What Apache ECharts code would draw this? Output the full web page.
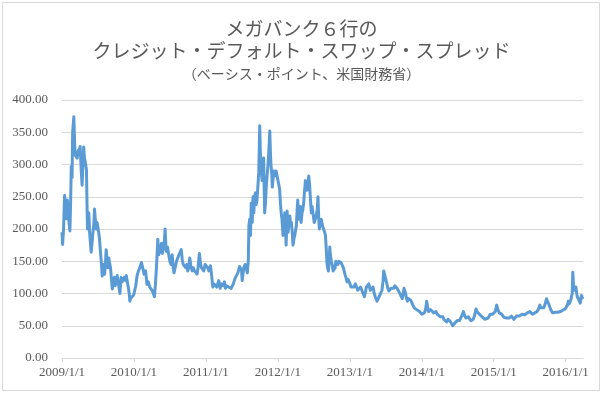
<!DOCTYPE html>
<html>
<head>
<meta charset="utf-8">
<script src="https://cdn.jsdelivr.net/npm/echarts@6/dist/echarts.min.js"></script>
<style>
html,body{margin:0;padding:0;background:#fff;}
#c{width:603px;height:395px;}
</style>
</head>
<body>
<div id="c"></div>
<script>
const titleLines = ['メガバンク６行の', 'クレジット・デフォルト・スワップ・スプレッド', '（ベーシス・ポイント、米国財務省）'];
const yearTicks = [2009, 2010, 2011, 2012, 2013, 2014, 2015, 2016];
const yTicks = [0, 50, 100, 150, 200, 250, 300, 350, 400];

const dates2009 = ['2009/01/01','2009/01/04','2009/01/09','2009/01/14','2009/01/19','2009/01/23','2009/01/28','2009/02/04','2009/02/10','2009/02/13','2009/02/17','2009/02/21','2009/02/24','2009/03/02','2009/03/05','2009/03/08','2009/03/14','2009/03/19','2009/03/24','2009/03/27','2009/04/03','2009/04/08','2009/04/13','2009/04/17','2009/04/21','2009/04/25','2009/04/28','2009/05/05','2009/05/10','2009/05/13','2009/05/17','2009/05/21','2009/05/24','2009/05/29','2009/06/03','2009/06/07','2009/06/11','2009/06/15','2009/06/19','2009/06/24','2009/06/28','2009/07/02','2009/07/06','2009/07/10','2009/07/15','2009/07/19','2009/07/24','2009/07/29','2009/08/05','2009/08/10','2009/08/13','2009/08/18','2009/08/22','2009/08/26','2009/08/30','2009/09/04','2009/09/08','2009/09/13','2009/09/18','2009/09/24','2009/09/28','2009/10/03','2009/10/08','2009/10/15','2009/10/22','2009/10/28','2009/11/02','2009/11/07','2009/11/13','2009/11/19','2009/11/23','2009/11/27','2009/12/03','2009/12/08','2009/12/11','2009/12/15','2009/12/18','2009/12/22','2009/12/31'];
const values2009 = [195,176,200,252,230,216,245,215,197,230,297,280,350,374,345,315,318,310,322,318,328,293,268,300,327,310,306,292,200,220,225,195,183,164,180,195,205,231,215,200,210,208,195,185,165,150,127,145,130,150,168,150,140,155,152,140,140,107,118,125,112,115,128,125,100,125,118,115,125,120,128,125,110,100,88,92,90,95,98];

const dates2010 = ['2010/01/04','2010/01/10','2010/01/17','2010/01/24','2010/01/31','2010/02/08','2010/02/12','2010/02/16','2010/02/21','2010/03/01','2010/03/08','2010/03/15','2010/03/22','2010/03/28','2010/04/03','2010/04/10','2010/04/15','2010/04/20','2010/04/25','2010/05/02','2010/05/07','2010/05/12','2010/05/17','2010/05/21','2010/05/25','2010/05/29','2010/06/03','2010/06/08','2010/06/12','2010/06/15','2010/06/20','2010/06/25','2010/07/02','2010/07/08','2010/07/14','2010/07/19','2010/07/23','2010/07/29','2010/08/05','2010/08/11','2010/08/17','2010/08/23','2010/08/29','2010/09/03','2010/09/08','2010/09/14','2010/09/20','2010/09/26','2010/10/01','2010/10/06','2010/10/11','2010/10/17','2010/10/23','2010/10/29','2010/11/04','2010/11/10','2010/11/17','2010/11/22','2010/11/29','2010/12/04','2010/12/09','2010/12/15','2010/12/21','2010/12/28'];
const values2010 = [100,112,128,135,140,148,150,138,130,135,114,118,110,108,105,104,95,115,140,184,160,160,172,178,162,160,175,200,175,165,172,175,150,145,160,140,132,140,150,155,160,163,168,152,145,142,140,145,135,140,155,142,135,140,135,138,130,140,162,148,140,140,135,145];

const dates2011 = ['2011/01/04','2011/01/10','2011/01/16','2011/01/24','2011/01/30','2011/02/05','2011/02/10','2011/02/15','2011/02/19','2011/02/25','2011/03/01','2011/03/07','2011/03/14','2011/03/20','2011/03/24','2011/03/31','2011/04/05','2011/04/10','2011/04/16','2011/04/22','2011/04/27','2011/05/03','2011/05/09','2011/05/14','2011/05/20','2011/05/25','2011/05/31','2011/06/06','2011/06/12','2011/06/17','2011/06/21','2011/06/25','2011/07/01','2011/07/04','2011/07/08','2011/07/12','2011/07/19','2011/07/26','2011/07/30','2011/08/04','2011/08/07','2011/08/11','2011/08/15','2011/08/19','2011/08/24','2011/08/28','2011/09/01','2011/09/05','2011/09/09','2011/09/13','2011/09/17','2011/09/22','2011/09/26','2011/10/01','2011/10/04','2011/10/08','2011/10/11','2011/10/13','2011/10/17','2011/10/21','2011/10/24','2011/10/26','2011/10/30','2011/11/04','2011/11/08','2011/11/12','2011/11/16','2011/11/21','2011/11/24','2011/11/27','2011/12/01','2011/12/04','2011/12/08','2011/12/11','2011/12/15','2011/12/19','2011/12/23','2011/12/28'];
const values2011 = [145,140,135,143,128,110,115,112,118,110,112,120,108,115,112,112,118,108,112,115,110,112,108,110,115,120,125,128,132,135,142,145,135,120,130,140,145,145,132,150,205,215,190,240,210,250,225,250,256,238,245,268,287,360,320,300,282,275,295,310,255,225,240,270,285,300,320,352,320,300,285,265,280,290,282,280,290,290];

const dates2012 = ['2012/01/05','2012/01/10','2012/01/14','2012/01/18','2012/01/22','2012/01/27','2012/02/01','2012/02/05','2012/02/09','2012/02/12','2012/02/17','2012/02/22','2012/02/27','2012/03/02','2012/03/06','2012/03/10','2012/03/14','2012/03/18','2012/03/23','2012/03/27','2012/04/01','2012/04/04','2012/04/08','2012/04/11','2012/04/16','2012/04/20','2012/04/24','2012/04/28','2012/05/03','2012/05/07','2012/05/11','2012/05/16','2012/05/20','2012/05/24','2012/05/28','2012/06/02','2012/06/06','2012/06/10','2012/06/14','2012/06/19','2012/06/23','2012/06/28','2012/07/04','2012/07/09','2012/07/14','2012/07/19','2012/07/23','2012/07/27','2012/07/30','2012/08/04','2012/08/09','2012/08/15','2012/08/21','2012/08/26','2012/08/30','2012/09/03','2012/09/07','2012/09/10','2012/09/14','2012/09/18','2012/09/21','2012/09/24','2012/09/29','2012/10/03','2012/10/08','2012/10/15','2012/10/18','2012/10/22','2012/10/27','2012/11/01','2012/11/06','2012/11/11','2012/11/17','2012/11/23','2012/11/29','2012/12/03','2012/12/07','2012/12/12','2012/12/18','2012/12/23','2012/12/28'];
const values2012 = [270,262,240,225,215,190,210,225,205,175,228,195,210,220,205,210,195,175,185,190,200,205,230,245,215,228,235,210,225,230,240,260,275,265,260,270,282,270,250,225,235,232,210,215,220,230,250,215,200,210,215,205,205,195,190,170,147,140,135,150,172,160,150,145,135,132,140,150,148,145,150,150,148,145,140,135,130,125,118,122,125];

const dates2013 = ['2013/01/02','2013/01/07','2013/01/14','2013/01/21','2013/01/29','2013/02/04','2013/02/10','2013/02/17','2013/02/24','2013/03/02','2013/03/09','2013/03/16','2013/03/21','2013/03/26','2013/04/01','2013/04/07','2013/04/15','2013/04/22','2013/04/29','2013/05/05','2013/05/10','2013/05/15','2013/05/19','2013/05/25','2013/05/31','2013/06/06','2013/06/13','2013/06/18','2013/06/22','2013/06/26','2013/06/30','2013/07/04','2013/07/08','2013/07/13','2013/07/18','2013/07/22','2013/07/29','2013/08/05','2013/08/11','2013/08/17','2013/08/23','2013/08/29','2013/09/04','2013/09/12','2013/09/18','2013/09/24','2013/09/28','2013/10/03','2013/10/07','2013/10/11','2013/10/16','2013/10/20','2013/10/25','2013/10/30','2013/11/05','2013/11/11','2013/11/17','2013/11/23','2013/11/29','2013/12/06','2013/12/13','2013/12/20','2013/12/27'];
const values2013 = [115,110,112,110,115,110,105,108,110,106,100,95,102,110,112,115,105,108,110,100,95,92,88,92,95,100,105,118,135,130,125,120,115,108,104,106,108,110,108,112,110,108,105,100,96,92,98,108,104,100,92,88,92,90,90,88,82,78,77,75,74,72,70];

const dates2014 = ['2014/01/01','2014/01/07','2014/01/14','2014/01/20','2014/01/26','2014/01/30','2014/02/04','2014/02/10','2014/02/15','2014/02/22','2014/03/01','2014/03/07','2014/03/14','2014/03/20','2014/03/26','2014/04/04','2014/04/12','2014/04/18','2014/04/23','2014/04/30','2014/05/07','2014/05/14','2014/05/21','2014/05/27','2014/06/02','2014/06/07','2014/06/10','2014/06/17','2014/06/24','2014/06/30','2014/07/05','2014/07/11','2014/07/17','2014/07/24','2014/07/31','2014/08/06','2014/08/13','2014/08/19','2014/08/25','2014/09/01','2014/09/06','2014/09/13','2014/09/19','2014/09/26','2014/10/03','2014/10/08','2014/10/14','2014/10/20','2014/10/26','2014/11/02','2014/11/09','2014/11/17','2014/11/26','2014/12/03','2014/12/09','2014/12/15','2014/12/21','2014/12/27'];
const values2014 = [68,70,70,75,88,80,72,75,75,72,70,70,72,68,65,64,62,64,60,58,56,60,58,56,54,50,51,54,55,58,60,58,62,66,72,66,62,62,64,62,58,60,60,66,76,72,70,68,65,64,62,60,58,62,65,68,70,68];

const dates2015 = ['2015/01/02','2015/01/09','2015/01/16','2015/01/22','2015/01/29','2015/02/04','2015/02/10','2015/02/16','2015/02/22','2015/03/01','2015/03/07','2015/03/13','2015/03/20','2015/03/26','2015/04/01','2015/04/07','2015/04/13','2015/04/20','2015/04/26','2015/05/03','2015/05/10','2015/05/18','2015/05/27','2015/06/02','2015/06/08','2015/06/14','2015/06/20','2015/06/26','2015/07/03','2015/07/09','2015/07/16','2015/07/22','2015/07/28','2015/08/03','2015/08/09','2015/08/16','2015/08/23','2015/08/27','2015/09/01','2015/09/06','2015/09/12','2015/09/19','2015/09/26','2015/09/30','2015/10/04','2015/10/08','2015/10/13','2015/10/17','2015/10/21','2015/10/27','2015/11/03','2015/11/09','2015/11/16','2015/11/23','2015/11/30','2015/12/05','2015/12/11','2015/12/17','2015/12/23','2015/12/29'];
const values2015 = [68,72,82,75,70,70,68,66,63,64,62,64,62,64,65,63,60,63,65,64,65,66,68,67,67,68,70,70,72,70,68,70,70,71,72,76,82,78,75,76,78,84,92,88,85,83,80,75,72,70,70,71,70,71,72,72,72,74,75,76];

const dates2016 = ['2016/01/05','2016/01/10','2016/01/14','2016/01/18','2016/01/22','2016/01/27','2016/01/31','2016/02/03','2016/02/06','2016/02/09','2016/02/13','2016/02/17','2016/02/22','2016/02/26','2016/02/29','2016/03/04','2016/03/08','2016/03/12','2016/03/15','2016/03/18','2016/03/21','2016/03/25','2016/03/29'];
const values2016 = [78,82,88,84,85,90,92,100,133,118,105,108,110,100,95,92,90,88,85,92,97,93,95];

const allDates = [].concat(dates2009, dates2010, dates2011, dates2012, dates2013, dates2014, dates2015, dates2016);
const allValues = [].concat(values2009, values2010, values2011, values2012, values2013, values2014, values2015, values2016);

function toYear(s) {
  const p = s.split('/').map(Number);
  const y = p[0];
  const start = Date.UTC(y, 0, 1), end = Date.UTC(y + 1, 0, 1);
  return y + (Date.UTC(y, p[1] - 1, p[2]) - start) / (end - start);
}
const seriesData = allDates.map((d, i) => [toYear(d), allValues[i]]);

const chart = echarts.init(document.getElementById('c'), null, {renderer: 'canvas'});
const titleColor = '#595959';
chart.setOption({
  backgroundColor: '#ffffff',
  animation: false,
  title: [
    {text: titleLines[0], left: 'center', top: 14, textStyle: {fontFamily: 'Noto Sans CJK JP', fontSize: 19, fontWeight: 'normal', color: titleColor}},
    {text: titleLines[1], left: 'center', top: 36, textStyle: {fontFamily: 'Noto Sans CJK JP', fontSize: 19, fontWeight: 'normal', color: titleColor}},
    {text: titleLines[2], left: 'center', top: 62, textStyle: {fontFamily: 'Noto Sans CJK JP', fontSize: 14, fontWeight: 'normal', color: titleColor}}
  ],
  graphic: [{
    type: 'rect', shape: {x: 2.5, y: 2.5, width: 597, height: 388},
    style: {fill: 'none', stroke: '#d9d9d9', lineWidth: 1}, silent: true
  }],
  grid: {left: 62, right: 20, top: 100, bottom: 37, containLabel: false},
  xAxis: {
    type: 'value',
    min: yearTicks[0],
    max: toYear(allDates[allDates.length - 1]),
    interval: 1,
    axisLine: {show: true, lineStyle: {color: '#d9d9d9', width: 1}},
    axisTick: {show: true, length: 4, lineStyle: {color: '#d9d9d9'}, customValues: yearTicks},
    axisLabel: {
      customValues: yearTicks,
      formatter: v => Math.round(v) + '/1/1',
      fontFamily: 'Liberation Serif', fontSize: 13, color: '#595959', margin: 8
    },
    splitLine: {show: false}
  },
  yAxis: {
    type: 'value',
    min: yTicks[0],
    max: yTicks[yTicks.length - 1],
    interval: 50,
    axisLine: {show: false},
    axisTick: {show: false},
    axisLabel: {formatter: v => v.toFixed(2), fontFamily: 'Liberation Serif', fontSize: 13, color: '#595959', margin: 14},
    splitLine: {lineStyle: {color: '#d9d9d9', width: 1}}
  },
  series: [{
    type: 'line',
    data: seriesData,
    showSymbol: false,
    symbol: 'none',
    lineStyle: {color: '#5b9bd5', width: 3, join: 'round'},
    itemStyle: {color: '#5b9bd5'}
  }]
});
</script>
</body>
</html>
